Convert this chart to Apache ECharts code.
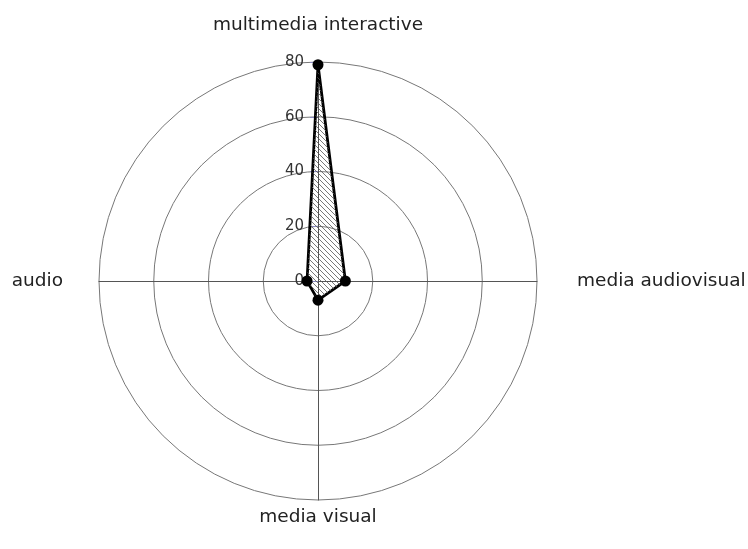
<!DOCTYPE html>
<html><head><meta charset="utf-8">
<script src="https://cdn.jsdelivr.net/npm/echarts@6/dist/echarts.min.js"></script>
<style>html,body{margin:0;padding:0;background:#fff}#c{width:748px;height:549px}</style>
</head><body><div id="c"></div>
<script>
// Indicators in ECharts order (counter-clockwise from top)
const indicatorNames = ['multimedia interactive', 'audio', 'media visual', 'media audiovisual'];
const seriesValues = [79, 4, 7, 10];
const axisMax = 80;
const tickLabels = ['0', '20', '40', '60', '80'];

function hatch() {
  const s = 5, c = document.createElement('canvas');
  c.width = s; c.height = s;
  const g = c.getContext('2d');
  g.strokeStyle = '#555'; g.lineWidth = 0.8;
  g.beginPath();
  g.moveTo(0, 0); g.lineTo(s, s);
  g.moveTo(-s, 0); g.lineTo(s, 2 * s);
  g.moveTo(0, -s); g.lineTo(2 * s, s);
  g.stroke();
  return c;
}

const keys = ['t', 'l', 'b', 'r'];
const font = 'DejaVu Sans, Verdana, sans-serif';
const fs = 18.5;
const chart = echarts.init(document.getElementById('c'));
chart.setOption({
  animation: false,
  radar: {
    center: [318, 281],
    radius: 219,
    shape: 'circle',
    splitNumber: 4,
    nameGap: 6,
    indicator: indicatorNames.map((n, i) => {
      const o = { name: n, min: 0, max: axisMax };
      if (i === 0) {
        o.axisLabel = { show: true };
        o.axisTick = { show: true };
      }
      return o;
    }),
    axisName: {
      color: '#222',
      fontFamily: font,
      fontSize: fs,
      formatter: (name) => `{${keys[indicatorNames.indexOf(name)]}|${name}}`,
      rich: {
        t: { fontFamily: font, fontSize: fs, color: '#222', padding: [0, 0, 21, 0] },
        l: { fontFamily: font, fontSize: fs, color: '#222', padding: [0, 30, 0, 0] },
        b: { fontFamily: font, fontSize: fs, color: '#222', padding: [2, 0, 0, 0] },
        r: { fontFamily: font, fontSize: fs, color: '#222', padding: [0, 0, 0, 34] }
      }
    },
    axisLabel: {
      show: false,
      color: '#333',
      fontFamily: font,
      fontSize: 15,
      margin: 14,
      showMinLabel: true,
      formatter: (v) => tickLabels[Math.round(v / 20)] ?? String(v)
    },
    axisTick: { show: false, length: 8, lineStyle: { color: '#8a8ac0', width: 1 } },
    axisLine: { lineStyle: { color: '#555', width: 1 } },
    splitLine: { lineStyle: { color: '#777', width: 1 } },
    splitArea: { show: false }
  },
  series: [{
    type: 'radar',
    symbol: 'circle',
    symbolSize: 11,
    lineStyle: { color: '#000', width: 2.8 },
    itemStyle: { color: '#000' },
    areaStyle: { color: { image: hatch(), repeat: 'repeat' }, opacity: 1 },
    data: [{ value: seriesValues }]
  }]
});
</script>
</body></html>
